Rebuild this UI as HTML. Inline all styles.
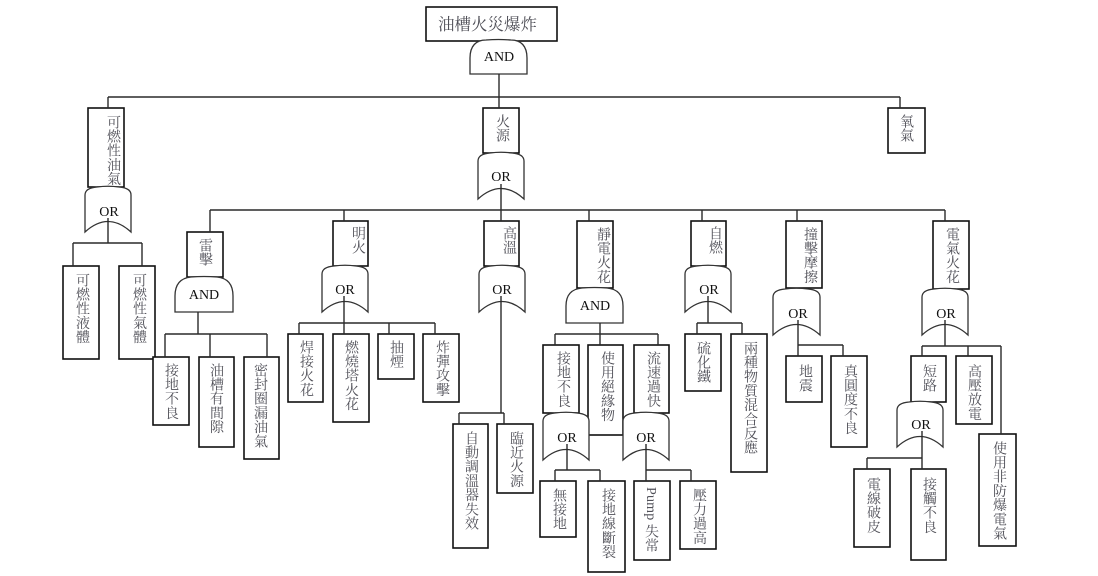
<!DOCTYPE html>
<html><head><meta charset="utf-8">
<style>
html,body{margin:0;padding:0;background:#fff;}
#wrap{position:relative;width:1098px;height:576px;overflow:hidden;background:#fff;}
svg{position:absolute;left:0;top:0;}
.v{position:absolute;writing-mode:vertical-rl;text-orientation:upright;font-size:14px;line-height:16px;width:16px;letter-spacing:0.2px;color:#505058;font-family:"Liberation Serif","Noto Serif CJK SC",serif;white-space:nowrap;}
.m{text-orientation:mixed;}
.t{position:absolute;font-size:16.5px;line-height:18px;color:#505058;font-family:"Liberation Serif","Noto Serif CJK SC",serif;white-space:nowrap;}
</style></head>
<body><div id="wrap">
<svg width="1098" height="576" viewBox="0 0 1098 576">
<g fill="#fff" stroke="#111" stroke-width="1.6">
<rect x="426" y="7" width="131" height="34"/>
<rect x="88" y="108" width="36" height="79"/>
<rect x="483" y="108" width="36" height="45"/>
<rect x="888" y="108" width="37" height="45"/>
<rect x="63" y="266" width="36" height="93"/>
<rect x="119" y="266" width="36" height="93"/>
<rect x="187" y="232" width="36" height="45"/>
<rect x="153" y="357" width="36" height="68"/>
<rect x="199" y="357" width="35" height="90"/>
<rect x="244" y="357" width="35" height="102"/>
<rect x="333" y="221" width="35" height="45"/>
<rect x="288" y="334" width="35" height="68"/>
<rect x="333" y="334" width="36" height="88"/>
<rect x="378" y="334" width="36" height="45"/>
<rect x="423" y="334" width="36" height="68"/>
<rect x="484" y="221" width="35" height="45"/>
<rect x="453" y="424" width="35" height="124"/>
<rect x="497" y="424" width="36" height="69"/>
<rect x="577" y="221" width="36" height="67"/>
<rect x="543" y="345" width="36" height="68"/>
<rect x="588" y="345" width="35" height="90"/>
<rect x="634" y="345" width="35" height="68"/>
<rect x="540" y="481" width="36" height="56"/>
<rect x="588" y="481" width="37" height="91"/>
<rect x="634" y="481" width="36" height="79"/>
<rect x="680" y="481" width="36" height="68"/>
<rect x="691" y="221" width="35" height="45"/>
<rect x="685" y="334" width="36" height="57"/>
<rect x="731" y="334" width="36" height="138"/>
<rect x="786" y="221" width="36" height="67"/>
<rect x="786" y="356" width="36" height="46"/>
<rect x="831" y="356" width="36" height="91"/>
<rect x="933" y="221" width="36" height="68"/>
<rect x="911" y="356" width="35" height="46"/>
<rect x="956" y="356" width="36" height="68"/>
<rect x="979" y="434" width="37" height="112"/>
<rect x="854" y="469" width="36" height="78"/>
<rect x="911" y="469" width="35" height="91"/>
</g>
<g fill="#fff" stroke="#333" stroke-width="1.3">
<path d="M470 74 V58 C470 46 476 40 486 40 Q498.5 39 511 40 C521 40 527 46 527 58 V74 Z"/>
<path d="M175 312 V296 C175 284 181 278 191 277 Q204 276 217 277 C227 278 233 284 233 296 V312 Z"/>
<path d="M566 323 V306 C566 294 572 289 582 288 Q594.5 287 607 288 C617 289 623 294 623 306 V323 Z"/>
<path d="M85 232 L85 195 Q85 188 97 187 Q108 185.5 119 187 Q131 188 131 195 L131 232 Q108 211 85 232 Z"/>
<path d="M478 199 L478 161 Q478 154 490 153 Q501 151.5 512 153 Q524 154 524 161 L524 199 Q501 178 478 199 Z"/>
<path d="M322 312 L322 274 Q322 267 334 266 Q345 264.5 356 266 Q368 267 368 274 L368 312 Q345 291 322 312 Z"/>
<path d="M479 312 L479 274 Q479 267 491 266 Q502 264.5 513 266 Q525 267 525 274 L525 312 Q502 291 479 312 Z"/>
<path d="M543 460 L543 421 Q543 414 555 413 Q566 411.5 577 413 Q589 414 589 421 L589 460 Q566 439 543 460 Z"/>
<path d="M623 460 L623 421 Q623 414 635 413 Q646 411.5 657 413 Q669 414 669 421 L669 460 Q646 439 623 460 Z"/>
<path d="M685 312 L685 274 Q685 267 697 266 Q708 264.5 719 266 Q731 267 731 274 L731 312 Q708 291 685 312 Z"/>
<path d="M773 335 L773 297 Q773 290 785 289 Q796.5 287.5 808 289 Q820 290 820 297 L820 335 Q796.5 314 773 335 Z"/>
<path d="M922 335 L922 297 Q922 290 934 289 Q945 287.5 956 289 Q968 290 968 297 L968 335 Q945 314 922 335 Z"/>
<path d="M897 447 L897 410 Q897 403 909 402 Q920 400.5 931 402 Q943 403 943 410 L943 447 Q920 426 897 447 Z"/>
</g>
<g fill="none" stroke="#2a2a2a" stroke-width="1.4">
<path d="M499 74 V108 M108 97 H900 M108 97 V108 M900 97 V108"/>
<path d="M108 218 V243 M73 243 H142 M73 243 V266 M142 243 V266"/>
<path d="M501 184 V221 M210 210 H945 M210 210 V232 M344 210 V221 M589 210 V221 M702 210 V221 M797 210 V221 M945 210 V221"/>
<path d="M198 312 V334 M165 334 H267 M165 334 V357 M210 334 V357 M267 334 V357"/>
<path d="M344 296 V323 M299 323 H435 M299 323 V334 M344 323 V334 M389 323 V334 M435 323 V334"/>
<path d="M501 296 V413 M459 413 H504 M459 413 V424 M504 413 V424"/>
<path d="M600 323 V334 M555 334 H658 M555 334 V345 M600 334 V345 M658 334 V345"/>
<path d="M567 444 V470 M555 470 H600 M555 470 V481 M600 470 V481"/>
<path d="M646 444 V481 M646 470 H691 M691 470 V481"/>
<path d="M708 296 V323 M697 323 H742 M697 323 V334 M742 323 V334"/>
<path d="M798 320 V356 M798 345 H843 M843 345 V356"/>
<path d="M945 320 V346 M922 346 H1001 M922 346 V356 M968 346 V356 M1001 346 V434"/>
<path d="M922 431 V469 M867 458 H922 M867 458 V469"/>
</g>
<g font-family="Liberation Serif, serif" font-size="14" fill="#111" text-anchor="middle">
<text x="499" y="61">AND</text>
<text x="204" y="299">AND</text>
<text x="595" y="310">AND</text>
<text x="109" y="216">OR</text>
<text x="501" y="181">OR</text>
<text x="345" y="294">OR</text>
<text x="502" y="294">OR</text>
<text x="567" y="442">OR</text>
<text x="646" y="442">OR</text>
<text x="709" y="294">OR</text>
<text x="798" y="318">OR</text>
<text x="946" y="318">OR</text>
<text x="921" y="429">OR</text>
</g>
</svg>
<div class="t" style="left:438px;top:16px;">油槽火災爆炸</div>
<div class="v" style="left:104px;top:115px;">可燃性油氣</div>
<div class="v" style="left:493px;top:114px;">火源</div>
<div class="v" style="left:897px;top:114px;">氧氣</div>
<div class="v" style="left:73px;top:273px;">可燃性液體</div>
<div class="v" style="left:130px;top:273px;">可燃性氣體</div>
<div class="v" style="left:196px;top:238px;">雷擊</div>
<div class="v" style="left:162px;top:363px;">接地不良</div>
<div class="v" style="left:207px;top:363px;">油槽有間隙</div>
<div class="v" style="left:251px;top:363px;">密封圈漏油氣</div>
<div class="v" style="left:349px;top:226px;">明火</div>
<div class="v" style="left:297px;top:340px;">焊接火花</div>
<div class="v" style="left:342px;top:340px;">燃燒塔火花</div>
<div class="v" style="left:387px;top:340px;">抽煙</div>
<div class="v" style="left:433px;top:340px;">炸彈攻擊</div>
<div class="v" style="left:500px;top:226px;">高溫</div>
<div class="v" style="left:462px;top:431px;">自動調溫器失效</div>
<div class="v" style="left:507px;top:431px;">臨近火源</div>
<div class="v" style="left:594px;top:227px;">靜電火花</div>
<div class="v" style="left:554px;top:351px;">接地不良</div>
<div class="v" style="left:598px;top:351px;">使用絕緣物</div>
<div class="v" style="left:644px;top:351px;">流速過快</div>
<div class="v" style="left:550px;top:488px;">無接地</div>
<div class="v" style="left:599px;top:488px;">接地線斷裂</div>
<div class="v m" style="left:642px;top:487px;">Pump 失常</div>
<div class="v" style="left:690px;top:488px;">壓力過高</div>
<div class="v" style="left:706px;top:226px;">自燃</div>
<div class="v" style="left:694px;top:341px;">硫化鐵</div>
<div class="v" style="left:741px;top:341px;">兩種物質混合反應</div>
<div class="v" style="left:801px;top:227px;">撞擊摩擦</div>
<div class="v" style="left:796px;top:364px;">地震</div>
<div class="v" style="left:841px;top:364px;">真圓度不良</div>
<div class="v" style="left:943px;top:227px;">電氣火花</div>
<div class="v" style="left:920px;top:364px;">短路</div>
<div class="v" style="left:965px;top:364px;">高壓放電</div>
<div class="v" style="left:990px;top:441px;">使用非防爆電氣</div>
<div class="v" style="left:864px;top:477px;">電線破皮</div>
<div class="v" style="left:920px;top:477px;">接觸不良</div>
</div></body></html>
